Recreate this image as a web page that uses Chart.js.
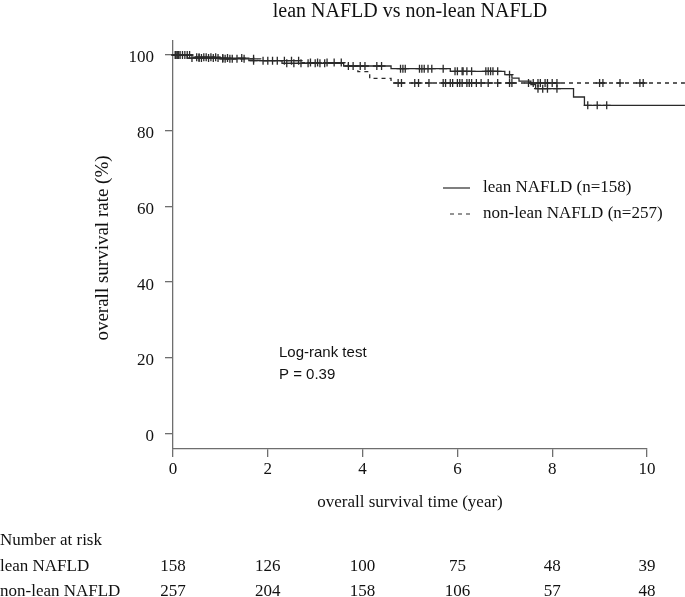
<!DOCTYPE html>
<html>
<head>
<meta charset="utf-8">
<script src="https://cdn.jsdelivr.net/npm/chart.js@4/dist/chart.umd.min.js"></script>
<style>
  html, body { margin: 0; padding: 0; background: #fff; }
  #wrap { width: 685px; height: 597px; }
</style>
</head>
<body>
<div id="wrap"><canvas id="km"></canvas></div>
<script>
// Kaplan-Meier steps: time (years) and survival (%) after each event
const leanTimes = [0, 0.3, 1.6, 2.3, 3.6, 4.6, 5.85, 7.0, 7.15, 7.3, 7.55, 7.65, 8.45, 8.68, 10.8];
const leanSurv  = [100, 99.2, 98.5, 97.8, 97.1, 96.4, 95.7, 94.8, 93.9, 93.1, 92.2, 91.1, 88.9, 86.7, 86.7];
const nonLeanTimes = [0, 0.4, 1.0, 1.85, 2.7, 3.7, 3.9, 4.15, 4.6, 10.8];
const nonLeanSurv  = [100, 99.4, 99.0, 98.5, 98.0, 97.1, 95.6, 93.8, 92.6, 92.6];

// censored times
const leanCensor = [0.05, 0.1, 0.15, 0.25, 0.4, 0.55, 0.6, 0.75, 0.85, 0.95, 1.05, 1.15, 1.45, 1.7,
  2.0, 2.1, 2.4, 2.55, 2.7, 2.85, 3.0, 3.1, 3.2, 3.7, 3.8, 3.95, 4.05, 4.3, 4.4, 4.8, 4.85, 4.9,
  5.2, 5.25, 5.3, 5.38, 5.46, 5.7, 5.95, 6.0, 6.1, 6.12, 6.2, 6.3, 6.6, 6.65, 6.7, 6.75, 6.85,
  7.1, 7.7, 7.8, 7.9, 8.1, 8.75, 8.95, 9.15, 10.45, 10.5];
const nonLeanCensor = [0.05, 0.08, 0.12, 0.2, 0.3, 0.35, 0.5, 0.55, 0.65, 0.7, 0.8, 0.9, 1.05, 1.1,
  1.2, 1.25, 1.35, 1.5, 1.7, 1.9, 2.2, 2.35, 2.5, 2.65, 2.9, 3.05, 3.25, 3.4, 3.55, 4.75, 4.82,
  5.1, 5.18, 5.4, 5.7, 5.75, 5.85, 5.9, 6.0, 6.05, 6.1, 6.2, 6.25, 6.3, 6.4, 6.5, 6.65, 6.85,
  7.1, 7.15, 7.5, 7.6, 7.7, 7.75, 7.85, 7.9, 8.0, 8.1, 9.0, 9.07, 9.43, 9.85, 9.92];

const xTicks = [0, 2, 4, 6, 8, 10];
const yTicks = [0, 20, 40, 60, 80, 100];
const riskLean = [158, 126, 100, 75, 48, 39];
const riskNonLean = [257, 204, 158, 106, 57, 48];

const serif = '"Liberation Serif", "Times New Roman", serif';
const sans = '"Liberation Sans", Arial, sans-serif';
const ink = '#111';
const curve = '#2a2a2a';
const axisCol = '#6e6e6e';

function toPoints(ts, ss) {
  return ts.map((t, i) => ({ x: t, y: ss[i] }));
}
function levelAt(ts, ss, t) {
  let v = ss[0];
  for (let i = 0; i < ts.length; i++) if (ts[i] <= t) v = ss[i];
  return v;
}
function censorPoints(cs, ts, ss) {
  return cs.map(t => ({ x: t, y: levelAt(ts, ss, t) }));
}

const extras = {
  id: 'extras',
  afterDraw(chart) {
    const ctx = chart.ctx;
    const xs = chart.scales.x;
    ctx.save();
    ctx.fillStyle = ink;
    ctx.textBaseline = 'middle';

    ctx.font = '20px ' + serif;
    ctx.textAlign = 'center';
    ctx.fillText('lean NAFLD vs non-lean NAFLD', 410, 12);

    ctx.font = '17px ' + serif;
    ctx.fillText('overall survival time (year)', 410, 503);

    ctx.save();
    ctx.translate(103, 248);
    ctx.rotate(-Math.PI / 2);
    ctx.font = '19px ' + serif;
    ctx.fillText('overall survival rate (%)', 0, 0);
    ctx.restore();

    // legend
    ctx.strokeStyle = curve;
    ctx.lineWidth = 1.2;
    ctx.beginPath(); ctx.moveTo(443, 188); ctx.lineTo(470, 188); ctx.stroke();
    ctx.setLineDash([4, 4]);
    ctx.beginPath(); ctx.moveTo(450, 214); ctx.lineTo(472, 214); ctx.stroke();
    ctx.setLineDash([]);
    ctx.textAlign = 'left';
    ctx.fillText('lean NAFLD (n=158)', 483, 188);
    ctx.fillText('non-lean NAFLD (n=257)', 483, 214);

    // log-rank
    ctx.font = '15px ' + sans;
    ctx.fillText('Log-rank test', 279, 353);
    ctx.fillText('P = 0.39', 279, 375);

    // number at risk
    ctx.font = '17px ' + serif;
    ctx.fillText('Number at risk', 0, 541);
    ctx.fillText('lean NAFLD', 0, 567);
    ctx.fillText('non-lean NAFLD', 0, 592);
    ctx.textAlign = 'center';
    xTicks.forEach((t, i) => {
      const px = xs.getPixelForValue(t);
      ctx.fillText(String(riskLean[i]), px, 567);
      ctx.fillText(String(riskNonLean[i]), px, 592);
    });
    ctx.restore();
  }
};

new Chart(document.getElementById('km'), {
  type: 'line',
  data: {
    datasets: [
      {
        label: 'lean NAFLD',
        data: toPoints(leanTimes, leanSurv),
        stepped: 'before',
        borderColor: curve,
        borderWidth: 1.3,
        pointRadius: 0,
        clip: false
      },
      {
        label: 'non-lean NAFLD',
        data: toPoints(nonLeanTimes, nonLeanSurv),
        stepped: 'before',
        borderColor: curve,
        borderWidth: 1.3,
        borderDash: [4, 4],
        pointRadius: 0,
        clip: false
      },
      {
        label: 'lean censored',
        data: censorPoints(leanCensor, leanTimes, leanSurv),
        showLine: false,
        pointStyle: 'cross',
        pointRadius: 4,
        borderColor: curve,
        borderWidth: 1.3,
        clip: false
      },
      {
        label: 'non-lean censored',
        data: censorPoints(nonLeanCensor, nonLeanTimes, nonLeanSurv),
        showLine: false,
        pointStyle: 'cross',
        pointRadius: 4,
        borderColor: curve,
        borderWidth: 1.3,
        clip: false
      }
    ]
  },
  options: {
    responsive: true,
    maintainAspectRatio: false,
    animation: false,
    events: [],
    layout: { padding: { left: 0, right: 38, top: 41, bottom: 0 } },
    plugins: {
      legend: { display: false },
      title: { display: false },
      tooltip: { enabled: false }
    },
    scales: {
      x: {
        type: 'linear',
        min: 0,
        max: 10,
        afterFit: s => { s.height = 148; },
        afterBuildTicks: s => { s.ticks = xTicks.map(v => ({ value: v })); },
        grid: { drawOnChartArea: false, drawTicks: true, tickLength: 8, color: axisCol, lineWidth: 1.3 },
        border: { color: axisCol, width: 1.3 },
        ticks: { color: ink, font: { family: serif, size: 17 }, padding: 2, maxRotation: 0 }
      },
      y: {
        min: -4.1,
        max: 103.7,
        afterFit: s => { s.width = 173; },
        afterBuildTicks: s => { s.ticks = yTicks.map(v => ({ value: v })); },
        grid: { drawOnChartArea: false, drawTicks: true, tickLength: 8, color: axisCol, lineWidth: 1.3 },
        border: { color: axisCol, width: 1.3 },
        ticks: { color: ink, font: { family: serif, size: 17 }, padding: 11, labelOffset: 3 }
      }
    }
  },
  plugins: [extras]
});
</script>
</body>
</html>
